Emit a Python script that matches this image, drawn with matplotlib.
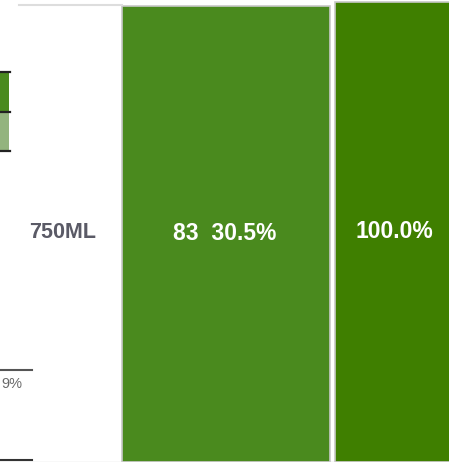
import matplotlib.pyplot as plt
from matplotlib.patches import Rectangle

# data read from the (cropped) mosaic view
category = "750ML"
count = 83
share_pct = 30.5
total_pct = 100.0
side_label = "9%"

col_colors = ["#4a8a1e", "#3f7f00"]
legend_colors = ["#4a8a1e", "#93b47e"]

fig = plt.figure(figsize=(4.49, 4.62), dpi=100)
ax = fig.add_axes([0, 0, 1, 1])
ax.set_xlim(0, 449)
ax.set_ylim(462, 0)
ax.axis("off")

# column layout (pixels of the crop)
col_left = [122, 335]
col_right = [330, 460]
col_top = [6, 2]
bottom = 462

for x0, x1, top, c in zip(col_left, col_right, col_top, col_colors):
    ax.add_patch(Rectangle((x0, top), x1 - x0, bottom - top, facecolor=c,
                           edgecolor="#c8c8c8", lw=1.2))

# thin frame lines
ax.plot([19, 122], [5, 5], color="#dddddd", lw=1.5)
ax.plot([0, 449], [461.5, 461.5], color="#e0e0e0", lw=1)

# partial legend on the left
ax.add_patch(Rectangle((-2, 72), 11, 40, facecolor=legend_colors[0], edgecolor="none"))
ax.add_patch(Rectangle((-2, 112), 11, 39, facecolor=legend_colors[1], edgecolor="none"))
for y in [72, 112, 151]:
    ax.plot([0, 10], [y, y], color="#222222", lw=1.6)

# partial axis on the left
ax.plot([0, 32], [370, 370], color="#555555", lw=1.5)
ax.plot([0, 32], [460, 460], color="#333333", lw=1.5)
ax.text(1, 384, side_label, ha="left", va="center", fontsize=10.5,
        color="#6a6a6a", family="Liberation Sans")

# labels
ax.text(63, 233, category, ha="center", va="center", fontsize=15.5,
        fontweight="bold", color="#5a5a66", family="Liberation Sans")
ax.text(225, 233, f"{count}  {share_pct:.1f}%", ha="center", va="center",
        fontsize=16.5, fontweight="bold", color="white", family="Liberation Sans")
ax.text(394, 232, f"{total_pct:.1f}%", ha="center", va="center",
        fontsize=16.5, fontweight="bold", color="white", family="Liberation Sans")

fig.savefig("out.png", dpi=100)
